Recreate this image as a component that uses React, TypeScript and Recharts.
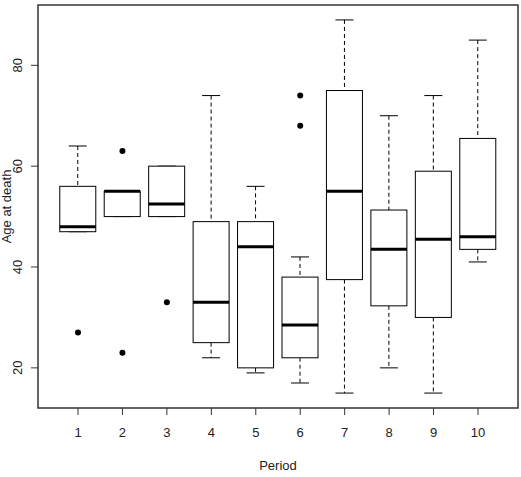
import {
    ComposedChart,
    Bar,
    Scatter,
    XAxis,
    YAxis,
    ReferenceArea,
} from "recharts";

// box statistics, one entry per period
const periods = [1, 2, 3, 4, 5, 6, 7, 8, 9, 10];
const lowWhisker = [47, 50, 50, 22, 19, 17, 15, 20, 15, 41];
const q1 = [47, 50, 50, 25, 20, 22, 37.5, 32.3, 30, 43.5];
const medians = [48, 55, 52.5, 33, 44, 28.5, 55, 43.5, 45.5, 46];
const q3 = [56, 55, 60, 49, 49, 38, 75, 51.3, 59, 65.5];
const highWhisker = [64, 55, 60, 74, 56, 42, 89, 70, 74, 85];

const outlierPeriods = [1, 2, 2, 3, 6, 6];
const outlierAges = [27, 63, 23, 33, 74, 68];

const yTicks = [20, 40, 60, 80];
const X_DOMAIN: [number, number] = [0.1, 10.9];
const Y_DOMAIN: [number, number] = [12.04, 91.96];

const INK = "#222";
const FONT = "'Liberation Sans', Arial, sans-serif";

const boxes = periods.map((p, i) => ({
    period: p,
    lo: lowWhisker[i],
    q1: q1[i],
    med: medians[i],
    q3: q3[i],
    hi: highWhisker[i],
}));

const outliers = outlierPeriods.map((p, i) => ({ period: p, age: outlierAges[i] }));

// the bar spans lo..hi, everything inside is placed on that linear stretch
function BoxShape(props: any) {
    const { x, y, width, height, payload } = props;
    const top = Math.min(y, y + height);
    const bottom = Math.max(y, y + height);
    const { lo, hi } = payload;
    const py = (v: number) => top + ((hi - v) / (hi - lo)) * (bottom - top);
    const cx = x + width / 2;
    const cap = width / 4;
    return (
        <g>
            <line x1={cx} x2={cx} y1={py(hi)} y2={py(payload.q3)} stroke="#000" strokeDasharray="4 3" />
            <line x1={cx} x2={cx} y1={py(payload.q1)} y2={py(lo)} stroke="#000" strokeDasharray="4 3" />
            <line x1={cx - cap} x2={cx + cap} y1={py(hi)} y2={py(hi)} stroke="#000" />
            <line x1={cx - cap} x2={cx + cap} y1={py(lo)} y2={py(lo)} stroke="#000" />
            <rect
                x={x}
                y={py(payload.q3)}
                width={width}
                height={py(payload.q1) - py(payload.q3)}
                fill="#fff"
                stroke="#000"
            />
            <line x1={x} x2={x + width} y1={py(payload.med)} y2={py(payload.med)} stroke="#000" strokeWidth={3} />
        </g>
    );
}

const XTick = (props: any) => {
    const { x, y, payload } = props;
    return (
        <text x={x} y={y} dy="0.71em" textAnchor="middle" fill={INK} fontSize={13} fontFamily={FONT}>
            {payload.value}
        </text>
    );
};

const YTick = (props: any) => {
    const { x, y, payload } = props;
    return (
        <text
            x={x}
            y={y}
            textAnchor="middle"
            transform={`rotate(-90, ${x}, ${y})`}
            fill={INK}
            fontSize={13}
            fontFamily={FONT}
        >
            {payload.value}
        </text>
    );
};

export default function App() {
    return (
        <div style={{ position: "absolute", left: 0, top: 0, background: "#fff" }}>
            <ComposedChart
                width={521}
                height={477}
                data={boxes}
                margin={{ top: 5, right: 3, bottom: 0, left: 0 }}
            >
                <XAxis
                    dataKey="period"
                    type="number"
                    domain={X_DOMAIN}
                    ticks={periods}
                    height={69}
                    axisLine={false}
                    tickSize={7}
                    tickMargin={13}
                    tickLine={{ stroke: "#333" }}
                    tick={<XTick />}
                    label={{
                        content: (p: any) => {
                            const vb = p.viewBox;
                            return (
                                <text
                                    x={vb.x + vb.width / 2}
                                    y={470}
                                    textAnchor="middle"
                                    fill={INK}
                                    fontSize={13}
                                    fontFamily={FONT}
                                >
                                    Period
                                </text>
                            );
                        },
                    }}
                />
                <YAxis
                    type="number"
                    domain={Y_DOMAIN}
                    ticks={yTicks}
                    width={38}
                    axisLine={false}
                    tickSize={7}
                    tickMargin={9}
                    tickLine={{ stroke: "#333" }}
                    tick={<YTick />}
                    label={{
                        content: (p: any) => {
                            const vb = p.viewBox;
                            const cy = vb.y + vb.height / 2;
                            return (
                                <text
                                    x={11}
                                    y={cy}
                                    textAnchor="middle"
                                    transform={`rotate(-90, 11, ${cy})`}
                                    fill={INK}
                                    fontSize={13}
                                    fontFamily={FONT}
                                >
                                    Age at death
                                </text>
                            );
                        },
                    }}
                />
                <Bar
                    dataKey={(d: any) => [d.lo, d.hi]}
                    barSize={36}
                    shape={<BoxShape />}
                    isAnimationActive={false}
                />
                <Scatter
                    data={outliers}
                    dataKey="age"
                    fill="#000"
                    shape={(p: any) => <circle cx={p.cx} cy={p.cy} r={3} fill="#000" />}
                    isAnimationActive={false}
                />
                <ReferenceArea
                    x1={X_DOMAIN[0]}
                    x2={X_DOMAIN[1]}
                    y1={Y_DOMAIN[0]}
                    y2={Y_DOMAIN[1]}
                    fill="none"
                    fillOpacity={0}
                    stroke="#333"
                    strokeWidth={1.5}
                />
            </ComposedChart>
        </div>
    );
}
